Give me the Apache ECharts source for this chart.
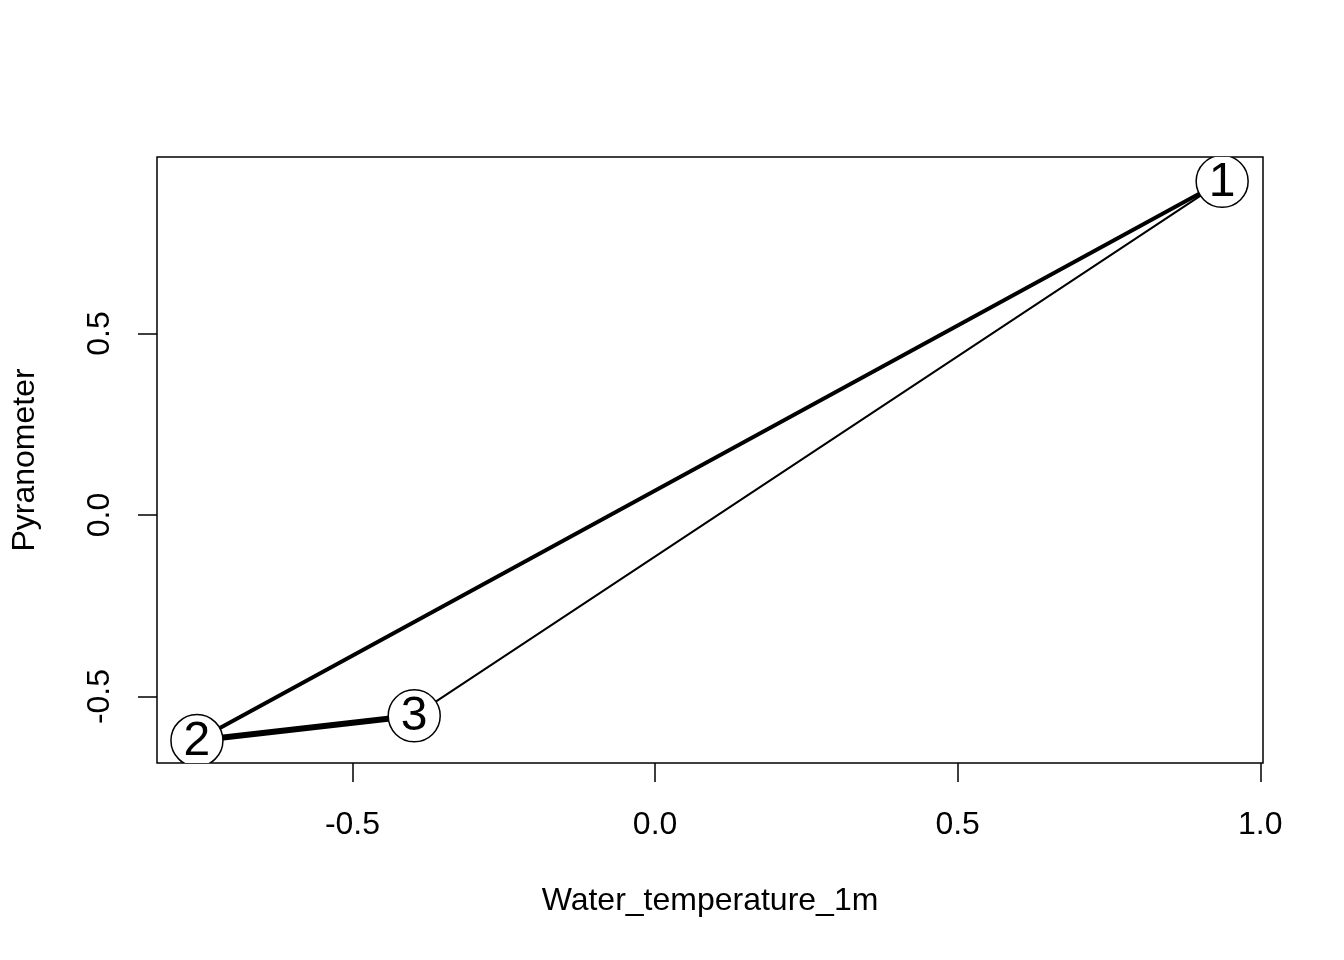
<!DOCTYPE html>
<html>
<head>
<meta charset="utf-8">
<script src="https://cdn.jsdelivr.net/npm/echarts@6/dist/echarts.min.js"></script>
<style>
  html, body { margin: 0; padding: 0; background: #fff; }
  #chart { width: 1344px; height: 960px; }
</style>
</head>
<body>
<div id="chart"></div>
<script>
// 节点数据
const nodeNames = ['1', '2', '3']
const nodeX = [0.937, -0.757, -0.398]
const nodeY = [0.919, -0.621, -0.553]

// 边数据（起点、终点、权重）
const edgeFrom = [0, 1, 0]
const edgeTo = [1, 2, 2]
const edgeWeight = [2, 3, 1]

// 刻度
const xTicks = [-0.5, 0.0, 0.5, 1.0]
const yTicks = [-0.5, 0.0, 0.5]

const font = 'Liberation Sans, Arial, sans-serif'

const nodeData = nodeNames.map((n, i) => [nodeX[i], nodeY[i], n])
const edgeData = edgeFrom.map((f, i) => [nodeX[f], nodeY[f], nodeX[edgeTo[i]], nodeY[edgeTo[i]], edgeWeight[i]])

const chart = echarts.init(document.getElementById('chart'))

chart.setOption({
    animation: false,
    backgroundColor: '#fff',
    grid: {
        left: 157, right: 81, top: 157, bottom: 197,
        containLabel: false,
        show: true,
        borderColor: '#000',
        borderWidth: 1.5
    },
    xAxis: {
        type: 'value',
        min: -0.823,
        max: 1.0045,
        name: 'Water_temperature_1m',
        nameLocation: 'middle',
        nameGap: 122,
        nameTextStyle: { color: '#000', fontSize: 32, fontFamily: font },
        axisLine: { show: false, onZero: false },
        axisTick: { show: true, length: 19, lineStyle: { color: '#000', width: 1.5 }, customValues: xTicks },
        axisLabel: {
            color: '#000', fontSize: 32, fontFamily: font, margin: 46,
            customValues: xTicks,
            formatter: v => v.toFixed(1)
        },
        splitLine: { show: false }
    },
    yAxis: {
        type: 'value',
        min: -0.683,
        max: 0.986,
        name: 'Pyranometer',
        nameLocation: 'middle',
        nameGap: 116,
        nameTextStyle: { color: '#000', fontSize: 32, fontFamily: font },
        axisLine: { show: false, onZero: false },
        axisTick: { show: true, length: 19, lineStyle: { color: '#000', width: 1.5 }, customValues: yTicks },
        axisLabel: {
            color: '#000', fontSize: 32, fontFamily: font, margin: 41, rotate: 90,
            customValues: yTicks,
            formatter: v => v.toFixed(1)
        },
        splitLine: { show: false }
    },
    series: [
        {
            // 边
            type: 'custom',
            clip: true,
            data: edgeData,
            renderItem: (params, api) => {
                const p1 = api.coord([api.value(0), api.value(1)])
                const p2 = api.coord([api.value(2), api.value(3)])
                return {
                    type: 'line',
                    shape: { x1: p1[0], y1: p1[1], x2: p2[0], y2: p2[1] },
                    style: { stroke: '#000', lineWidth: api.value(4) * 2, lineCap: 'round' }
                }
            },
            z: 1
        },
        {
            // 节点
            type: 'custom',
            clip: true,
            data: nodeData,
            renderItem: (params, api) => {
                const p = api.coord([api.value(0), api.value(1)])
                return {
                    type: 'group',
                    children: [
                        {
                            type: 'circle',
                            shape: { cx: p[0], cy: p[1], r: 26 },
                            style: { fill: '#fff', stroke: '#000', lineWidth: 1.5 }
                        },
                        {
                            type: 'text',
                            x: p[0], y: p[1] + 1,
                            style: {
                                text: nodeNames[params.dataIndex],
                                fill: '#000',
                                font: '48px ' + font,
                                align: 'center',
                                verticalAlign: 'middle'
                            }
                        }
                    ]
                }
            },
            z: 2
        }
    ]
})
</script>
</body>
</html>
